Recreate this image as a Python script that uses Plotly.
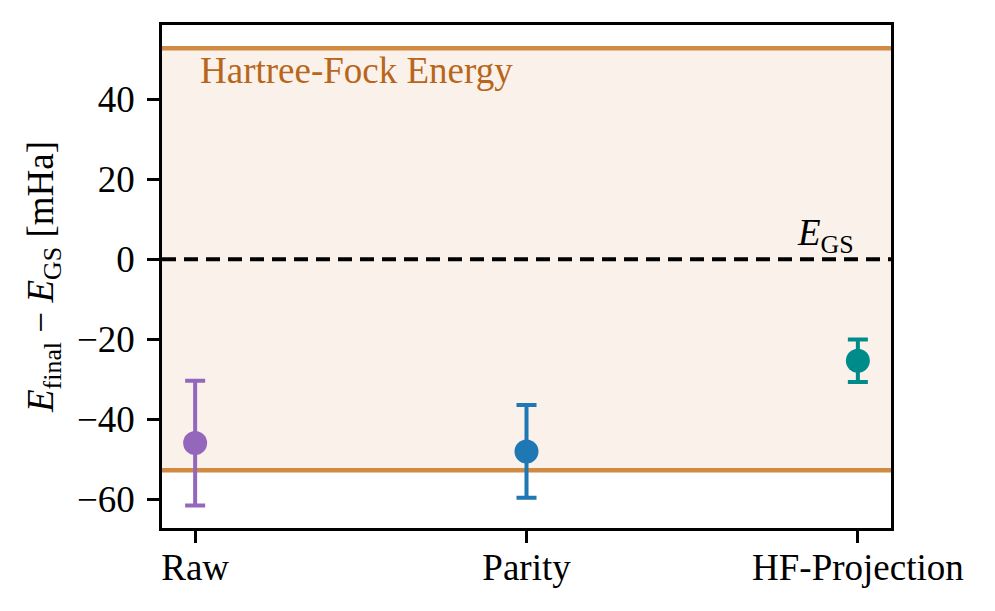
import plotly.graph_objects as go

categories = ["Raw", "Parity", "HF-Projection"]
energies = [-46.0, -48.1, -25.4]
errors = [15.6, 11.6, 5.3]
colors = ["#9467bd", "#1f77b4", "#008b8b"]
hf_energy = 52.8
gs_energy = 0.0
y_ticks = [-60, -40, -20, 0, 20, 40]
y_range = [-67.25, 58.6]

FONT = "Liberation Serif"
FS = 37

fig = go.Figure()

for cat, e, err, c in zip(categories, energies, errors, colors):
    fig.add_trace(go.Scatter(
        x=[cat], y=[e], mode="markers",
        marker=dict(size=24, color=c),
        error_y=dict(type="data", array=[err], visible=True, color=c, thickness=4, width=10),
        showlegend=False,
    ))

# HF band and lines
fig.add_shape(type="rect", xref="paper", yref="y", x0=0, x1=1, y0=-hf_energy, y1=hf_energy,
              fillcolor="rgba(205,133,63,0.11)", line=dict(width=0), layer="below")
for yv in (hf_energy, -hf_energy):
    fig.add_shape(type="line", xref="paper", yref="y", x0=0, x1=1, y0=yv, y1=yv,
                  line=dict(color="#d08a42", width=4.5), layer="below")
fig.add_shape(type="line", xref="paper", yref="y", x0=0, x1=1, y0=gs_energy, y1=gs_energy,
              line=dict(color="black", width=4, dash="14px,8px"), layer="above")

fig.add_annotation(x=0.0, y=hf_energy - 5.5, xref="paper", yref="y", text="Hartree-Fock Energy",
                   showarrow=False, xanchor="left", yanchor="middle", xshift=36,
                   font=dict(family=FONT, size=FS, color="#b8661c"))
fig.add_annotation(x=0.868, y=gs_energy, xref="paper", yref="y",
                   text="<i>E</i><sub>GS</sub>", showarrow=False, xanchor="left", yanchor="bottom",
                   xshift=0, yshift=-2,
                   font=dict(family=FONT, size=FS, color="black"))

fig.update_layout(
    width=995, height=611,
    margin=dict(l=154, r=112, t=17, b=91),
    plot_bgcolor="white", paper_bgcolor="white",
    font=dict(family=FONT, size=FS, color="black"),
)
fig.update_xaxes(
    type="category", categoryorder="array", categoryarray=categories,
    range=[-0.1, 2.1], showgrid=False, zeroline=False,
    showline=True, linecolor="black", linewidth=2.7, mirror=True,
    ticks="outside", ticklen=12, tickwidth=2.5, tickcolor="black",
    tickfont=dict(family=FONT, size=FS), ticklabelstandoff=-7,
)
fig.update_yaxes(
    range=y_range, tickvals=y_ticks, ticktext=[("−" + str(-v)) if v < 0 else str(v) for v in y_ticks],
    showgrid=False, zeroline=False,
    showline=True, linecolor="black", linewidth=2.7, mirror=True,
    ticks="outside", ticklen=12, tickwidth=2.5, tickcolor="black",
    tickfont=dict(family=FONT, size=FS), ticklabelstandoff=5,
    title=dict(text="<i>E</i><sub>final</sub> − <i>E</i><sub>GS</sub> [mHa]",
               font=dict(family=FONT, size=FS), standoff=12),
)

fig.write_html("out.html")
